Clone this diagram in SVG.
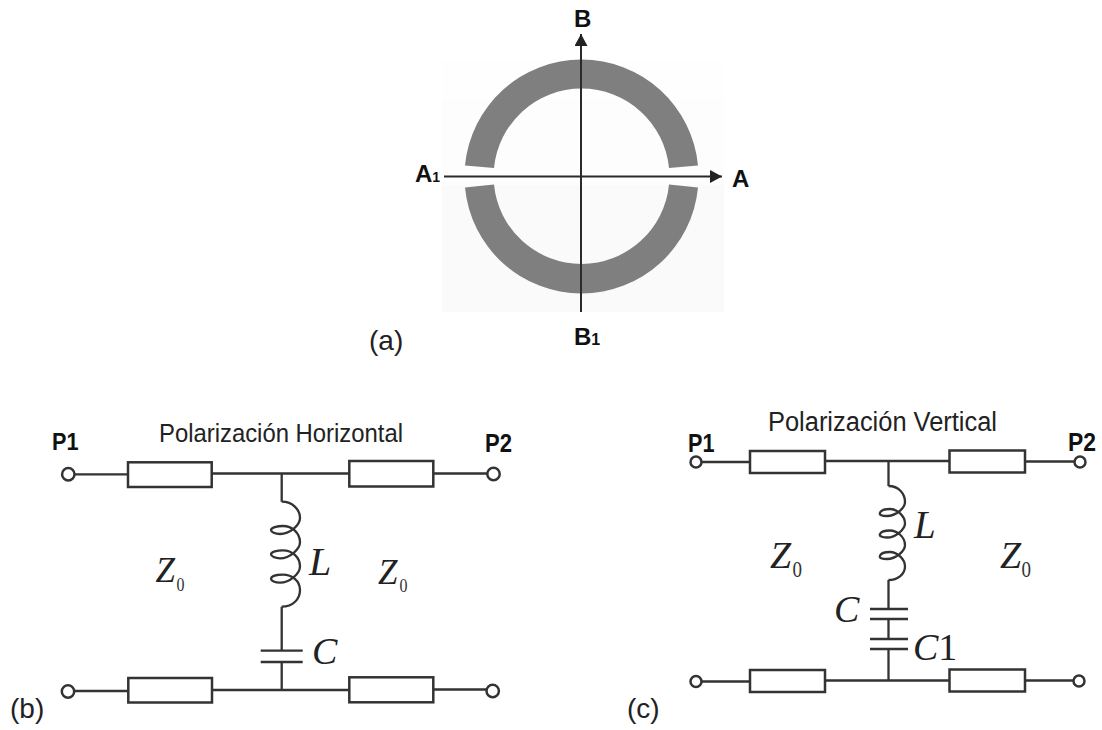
<svg xmlns="http://www.w3.org/2000/svg" width="1102" height="730" viewBox="0 0 1102 730">
<style>
.bold{font-family:"Liberation Sans",Arial,sans-serif;font-weight:bold;font-size:24px;fill:#111}
.math{font-family:"Liberation Serif","Times New Roman",serif;font-style:italic;font-size:35px;fill:#222}
.sub{font-family:"Liberation Serif","Times New Roman",serif;font-size:23px;fill:#333}
.cap{font-family:"Liberation Sans",Arial,sans-serif;font-size:28px;fill:#222}
.title{font-family:"Liberation Sans",Arial,sans-serif;font-size:26px;fill:#222}
.wire{fill:none;stroke:#333;stroke-width:2.300}
.axis{fill:none;stroke:#2a2a2a;stroke-width:2}
.res{fill:#fff;stroke:#333;stroke-width:2.500}
.term{fill:#fff;stroke:#333;stroke-width:2.500}
.plate{fill:none;stroke:#333;stroke-width:2.300}
.ring{fill:#7f7f7f}
</style>
<defs>
<marker id="arrow" markerUnits="userSpaceOnUse" markerWidth="13" markerHeight="14" refX="12" refY="6.5" orient="auto">
<path d="M0 0L12 6.5L0 13Z" fill="#222"/>
</marker>
</defs>

<g id="panel-a">
<rect x="442" y="60" width="282" height="40" fill="#fefefe"/>
<rect x="442" y="100" width="282" height="85" fill="#fdfdfd"/>
<rect x="442" y="185" width="282" height="127" fill="#fafafa"/>
<path class="ring" d="M465 165.5A117.02 117.02 0 0 1 698 165.5L669 168A87.91 87.91 0 0 0 494 168Z"/>
<path class="ring" d="M465 187.5A117.02 117.02 0 0 0 698 187.5L669 184.5A87.91 87.91 0 0 1 494 184.5Z"/>
<text class="bold" x="574" y="27">B</text>
<text class="bold" x="415" y="182">A<tspan style="font-size:14px">1</tspan></text>
<text class="bold" x="732" y="187">A</text>
<text class="bold" x="574" y="345">B<tspan style="font-size:16px">1</tspan></text>
<text class="cap" x="369" y="350">(a)</text>
</g>

<g id="connectors">
<path class="axis" marker-end="url(#arrow)" d="M444 176.5H722"/>
<path class="axis" marker-end="url(#arrow)" d="M581 312V34"/>
<path class="wire" d="M74.500 474.300H128M212 473.500H349M433 473.500H487M281.700 473.500V501.700M281.700 606.700V650.700M281.700 662V690M74.500 691H128M212 690H349M433 689.500H486.500"/>
<path class="wire" d="M702 462H750M825 461H949M1025 461.5H1074M888.5 461V486M888.5 580V609M888.5 619V639M888.5 649V680.5M702 681.5H750M825 680.5H949M1025 680.5H1073"/>
</g>

<g id="panel-b">
<g id="b-p1"><circle class="term" cx="68.300" cy="474.300" r="6.200"/><text class="bold" x="52" y="449.500" textLength="26.500" lengthAdjust="spacingAndGlyphs">P1</text></g>
<g id="b-p2"><circle class="term" cx="493.500" cy="474" r="6.200"/><text class="bold" x="485" y="451.700" style="font-size:26px" textLength="27" lengthAdjust="spacingAndGlyphs">P2</text></g>
<g id="b-p3"><circle class="term" cx="68" cy="691.500" r="6.200"/></g>
<g id="b-p4"><circle class="term" cx="492.700" cy="691" r="6.200"/></g>
<g id="b-r1"><rect class="res" x="128" y="462.300" width="83.700" height="24.700"/></g>
<g id="b-r2"><rect class="res" x="349.300" y="461" width="84" height="25.500"/></g>
<g id="b-r3"><rect class="res" x="128.300" y="678" width="83.700" height="24.500"/></g>
<g id="b-r4"><rect class="res" x="349.300" y="677.300" width="84" height="25"/></g>
<g id="b-coil">
<path class="wire" d="M281.700 501.700C293 501.700 300 510 300 518C300 525 290 534 280 534C275 534 271 532 271 530C271 527.500 277 526 283 526C292 526 300 533 300 542.300C300 549 290 558.300 280 558.300C275 558.300 271 556.300 271 554.300C271 551.800 277 550.300 283 550.300C292 550.300 300 557 300 566.500C300 573.500 290 582.700 280 582.700C275 582.700 271 580.700 271 578.700C271 576 277 574.700 283 574.700C292 574.700 300 581 300 590C300 599 293 606.700 281.700 606.700"/>
<text class="math" x="309" y="575" style="font-size:40px">L</text>
</g>
<g id="b-cap">
<path class="plate" d="M260.700 650.700H302.700M260.700 662H302.700"/>
<text class="math" x="312" y="664" style="font-size:38px">C</text>
</g>
<text class="math" x="155.500" y="582.300">Z</text><text class="sub" x="176.500" y="590.700" style="font-size:19px" textLength="8" lengthAdjust="spacingAndGlyphs">0</text>
<text class="math" x="378" y="584">Z</text><text class="sub" x="399.500" y="591.700" style="font-size:19px" textLength="8" lengthAdjust="spacingAndGlyphs">0</text>
<text class="title" x="159" y="441.500" textLength="244" lengthAdjust="spacingAndGlyphs">Polarización Horizontal</text>
<text class="cap" x="10" y="718">(b)</text>
</g>

<g id="panel-c">
<g id="c-p1"><circle class="term" cx="696" cy="462" r="5.500"/><text class="bold" x="688" y="452" style="font-size:26px" textLength="26.500" lengthAdjust="spacingAndGlyphs">P1</text></g>
<g id="c-p2"><circle class="term" cx="1080" cy="462" r="5.500"/><text class="bold" x="1068" y="451" style="font-size:26px" textLength="28" lengthAdjust="spacingAndGlyphs">P2</text></g>
<g id="c-p3"><circle class="term" cx="696" cy="681.500" r="5.500"/></g>
<g id="c-p4"><circle class="term" cx="1079" cy="681" r="5.500"/></g>
<g id="c-r1"><rect class="res" x="750" y="451" width="75" height="22"/></g>
<g id="c-r2"><rect class="res" x="949.500" y="450.500" width="75.500" height="22"/></g>
<g id="c-r3"><rect class="res" x="750" y="670" width="75" height="22"/></g>
<g id="c-r4"><rect class="res" x="949.500" y="669.500" width="75.500" height="22"/></g>
<g id="c-coil">
<path class="wire" d="M888.500 486C899 486 905 494 905 502C905 508 896 516 887 516C882 516 879 515 880 512.700C881 510 885 509 890 509C897 509 905 516 905 523.500C905 529 896 537.500 887 537.500C882 537.500 879 536 880 534C881 531.500 885 530.500 890 530.500C897 530.500 905 537 905 545C905 551 896 559 887 559C882 559 879 558 880 555.700C881 553 885 552 890 552C897 552 905 559 905 566.500C905 574 898 580 888.500 580"/>
<text class="math" x="914" y="538" style="font-size:39px">L</text>
</g>
<g id="c-cap1">
<path class="plate" d="M870 609H908M870 619H908"/>
<text class="math" x="834" y="622" style="font-size:38px">C</text>
</g>
<g id="c-cap2">
<path class="plate" d="M870 639H908M870 649H908"/>
<text class="math" x="913" y="660" style="font-size:38px">C<tspan style="font-style:normal">1</tspan></text>
</g>
<text class="math" x="770" y="568" style="font-size:38px">Z</text><text class="sub" x="792.500" y="577" textLength="9.500" lengthAdjust="spacingAndGlyphs">0</text>
<text class="math" x="1000" y="568" style="font-size:38px">Z</text><text class="sub" x="1021.500" y="577" textLength="9.500" lengthAdjust="spacingAndGlyphs">0</text>
<text class="title" x="768" y="431" style="font-size:27px" textLength="229" lengthAdjust="spacingAndGlyphs">Polarización Vertical</text>
<text class="cap" x="627" y="718">(c)</text>
</g>
</svg>
